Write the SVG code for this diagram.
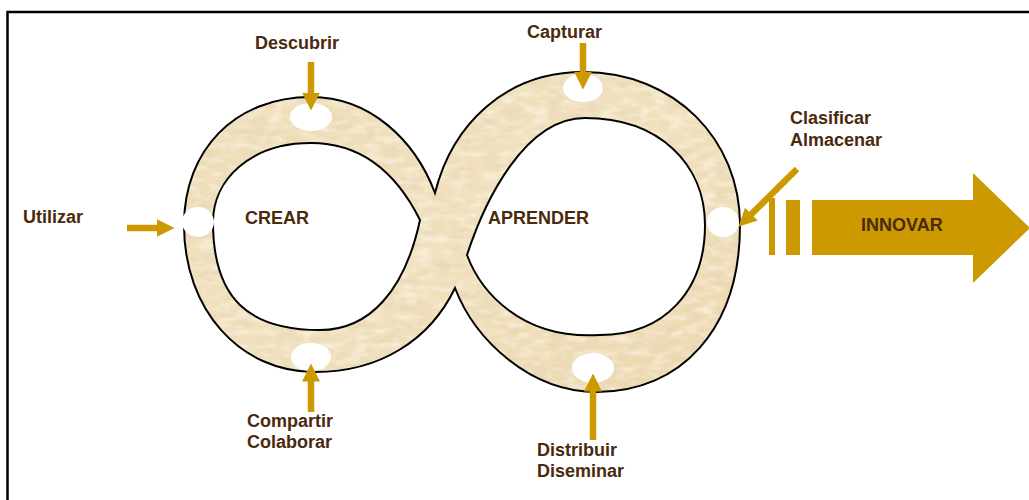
<svg xmlns="http://www.w3.org/2000/svg" width="1029" height="500" viewBox="0 0 1029 500">
<defs>
<style>
.lbl{font-family:"Liberation Sans",Arial,sans-serif;font-weight:bold;font-size:18px;fill:#4A2A0C}
.hole{fill:#FFFFFF;stroke:none}
.gold{fill:#CC9900}
.conn{stroke:#CC9900;stroke-width:6.5;fill:none}
</style>
<marker id="ah" markerUnits="userSpaceOnUse" markerWidth="18" markerHeight="18" viewBox="0 0 18 18" refX="0.5" refY="9" orient="auto">
<path d="M0,0 L18,9 L0,18 Z" fill="#CC9900"/>
</marker>
<filter id="tex" x="0%" y="0%" width="100%" height="100%">
<feTurbulence type="fractalNoise" baseFrequency="0.04 0.1" numOctaves="3" seed="7"/>
<feColorMatrix type="matrix" values="0 0 0 0 0.78  0 0 0 0 0.66  0 0 0 0 0.46  0 0 0 1.3 -0.5"/>
<feComposite in2="SourceGraphic" operator="in"/>
</filter>
<filter id="tex2" x="0%" y="0%" width="100%" height="100%">
<feTurbulence type="fractalNoise" baseFrequency="0.06 0.14" numOctaves="2" seed="21"/>
<feColorMatrix type="matrix" values="0 0 0 0 0.99  0 0 0 0 0.95  0 0 0 0 0.84  0 0 0 1.4 -0.6"/>
<feComposite in2="SourceGraphic" operator="in"/>
</filter>
<linearGradient id="beige" x1="0" y1="0" x2="1" y2="1">
<stop offset="0" stop-color="#EEDDB8"/>
<stop offset="0.5" stop-color="#F1E1BE"/>
<stop offset="1" stop-color="#ECD8AF"/>
</linearGradient>
<path id="bp" d="M 435,193 C 452,125 505,72 583,72 C 675,72 740,140 740,225 C 740,330 680,392 597,392 C 530,392 475,340 455,288 C 430,340 380,372 315,372 C 240,372 184,310 184,225 C 184,150 235,97 311,97 C 370,97 415,140 435,193 Z M 420,220 C 395,170 360,143 311,143 C 250,143 213,180 213,222 C 213,300 250,330 320,330 C 370,330 405,290 420,220 Z M 467,255 C 485,200 525,118 585,118 C 660,118 705,165 705,225 C 705,290 665,335 600,335 C 520,340 480,290 467,255 Z"/>
</defs>
<rect x="0" y="0" width="1029" height="500" fill="#FFFFFF"/>
<rect x="7.5" y="12" width="1200" height="700" fill="none" stroke="#000000" stroke-width="2.5"/>
<g id="band" fill-rule="evenodd">
<use href="#bp" fill="url(#beige)"/>
<use href="#bp" fill="#E6D0A4" filter="url(#tex)"/>
<use href="#bp" fill="#FFF5DC" filter="url(#tex2)"/>
<use href="#bp" fill="none" stroke="#000000" stroke-width="2"/>
</g>
<g id="crear"><text class="lbl" x="245" y="224">CREAR</text></g>
<g id="aprender"><text class="lbl" x="488" y="224">APRENDER</text></g>
<g id="descubrir">
<ellipse class="hole" cx="311" cy="117" rx="21" ry="14"/>
<text class="lbl" x="255" y="49">Descubrir</text>
</g>
<g id="capturar">
<ellipse class="hole" cx="583" cy="88" rx="20" ry="14"/>
<text class="lbl" x="527" y="38">Capturar</text>
</g>
<g id="utilizar">
<ellipse class="hole" cx="198" cy="222" rx="16" ry="15"/>
<text class="lbl" x="23" y="223">Utilizar</text>
</g>
<g id="clasificar">
<ellipse class="hole" cx="723" cy="222" rx="16" ry="15"/>
<text class="lbl" x="790" y="124">Clasificar</text>
<text class="lbl" x="790" y="146">Almacenar</text>
</g>
<g id="compartir">
<ellipse class="hole" cx="311" cy="357" rx="20" ry="14"/>
<text class="lbl" x="247" y="427">Compartir</text>
<text class="lbl" x="247" y="448">Colaborar</text>
</g>
<g id="distribuir">
<ellipse class="hole" cx="593" cy="368" rx="21" ry="15"/>
<text class="lbl" x="537" y="456">Distribuir</text>
<text class="lbl" x="537" y="477">Diseminar</text>
</g>
<g id="innovar">
<rect class="gold" x="769" y="198" width="6" height="57"/>
<rect class="gold" x="786" y="200" width="14" height="55"/>
<path class="gold" d="M 812,200 L 973,200 L 973,173 L 1030,228 L 973,283 L 973,255 L 812,255 Z"/>
<text class="lbl" x="861" y="231">INNOVAR</text>
</g>
<g id="connectors">
<line class="conn" x1="311" y1="62" x2="311" y2="93" marker-end="url(#ah)"/>
<line class="conn" x1="583" y1="43" x2="583" y2="72" marker-end="url(#ah)"/>
<line class="conn" x1="127" y1="228" x2="157" y2="228" marker-end="url(#ah)"/>
<line class="conn" x1="311" y1="412" x2="311" y2="381" marker-end="url(#ah)"/>
<line class="conn" x1="593" y1="440" x2="593" y2="391" marker-end="url(#ah)"/>
<line class="conn" x1="797" y1="169" x2="751" y2="214.5" marker-end="url(#ah)"/>
</g>
</svg>
